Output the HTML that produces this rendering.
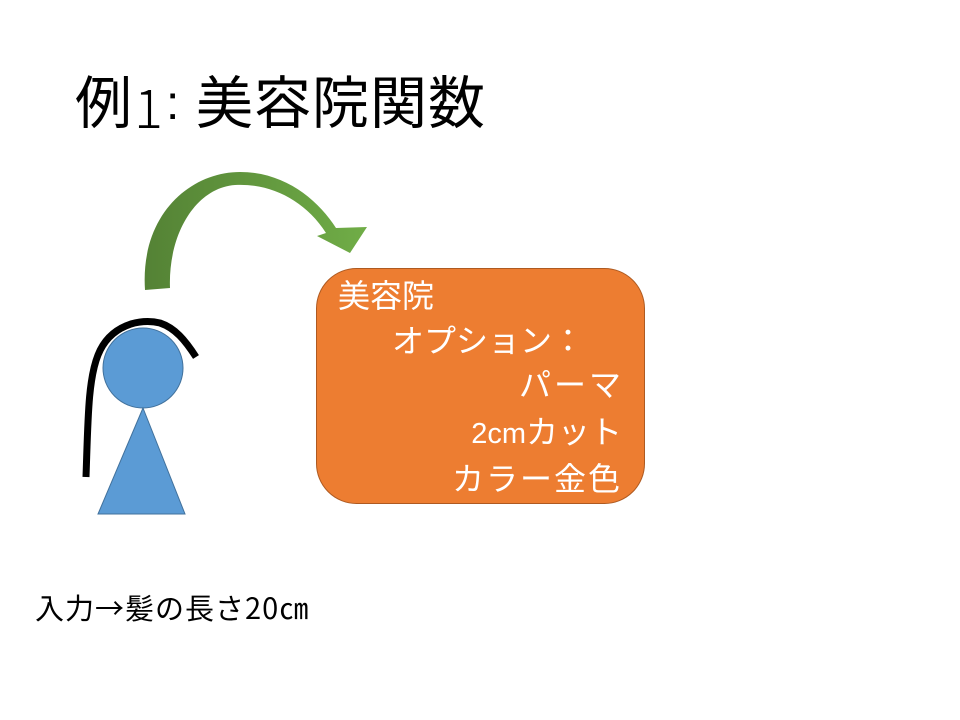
<!DOCTYPE html>
<html><head><meta charset="utf-8"><style>
body{margin:0;width:960px;height:720px;background:#fff;position:relative;overflow:hidden;font-family:"Liberation Sans","Noto Sans CJK JP",sans-serif}
.t{position:absolute;white-space:nowrap;line-height:1}
</style></head><body>
<div class="t" style="left:75px;top:76px;font-size:57px;color:#000">例</div>
<div class="t" style="left:134px;top:78px;font-size:54px;color:#000;font-family:'Noto Sans CJK JP',sans-serif;font-weight:300">1</div>
<div class="t" style="left:166px;top:80px;font-size:48px;color:#000">:</div>
<div class="t" style="left:196px;top:76px;font-size:57px;color:#000;letter-spacing:1px">美容院関数</div>
<svg width="960" height="720" style="position:absolute;left:0;top:0">
<defs><linearGradient id="g" x1="0" x2="1" y1="0" y2="0"><stop offset="0" stop-color="#548235"/><stop offset="1" stop-color="#70ad47"/></linearGradient></defs>
<path d="M145,290 C140,215 190,172 240,172 C285,172 318,200 336,228 L367,227 L350,253 L317,236 L326,233 C305,200 270,183 235,185 C195,188 168,235 170,288 Z" fill="url(#g)"/>
<rect x="316.5" y="268.5" width="328" height="235" rx="40" fill="#ed7d31" stroke="#ae5a21" stroke-width="1"/>
<circle cx="143" cy="368" r="40" fill="#5b9bd5" stroke="#41719c" stroke-width="1"/>
<polygon points="143,408 185,514 98,514" fill="#5b9bd5" stroke="#41719c" stroke-width="1"/>
<path d="M86,477 C88,420 88,380 98,355 C110,325 140,318 160,323 C175,328 185,340 196,357" fill="none" stroke="#000" stroke-width="7"/>
</svg>
<div class="t" style="left:338px;top:280px;font-size:32px;color:#fff">美容院</div>
<div class="t" style="left:392px;top:325px;font-size:32px;color:#fff">オプション：</div>
<div class="t" style="right:336px;top:369px;font-size:32px;color:#fff;letter-spacing:3px">パーマ</div>
<div class="t" style="right:338px;top:416px;font-size:32px;color:#fff"><span style="font-size:29px">2cm</span>カット</div>
<div class="t" style="right:338px;top:463px;font-size:32px;color:#fff;letter-spacing:2px">カラー金色</div>
<div class="t" style="left:35px;top:593px;font-size:29px;color:#000;font-family:'Noto Sans CJK JP',sans-serif;letter-spacing:1px">入力→髪の長さ20㎝</div>
</body></html>
